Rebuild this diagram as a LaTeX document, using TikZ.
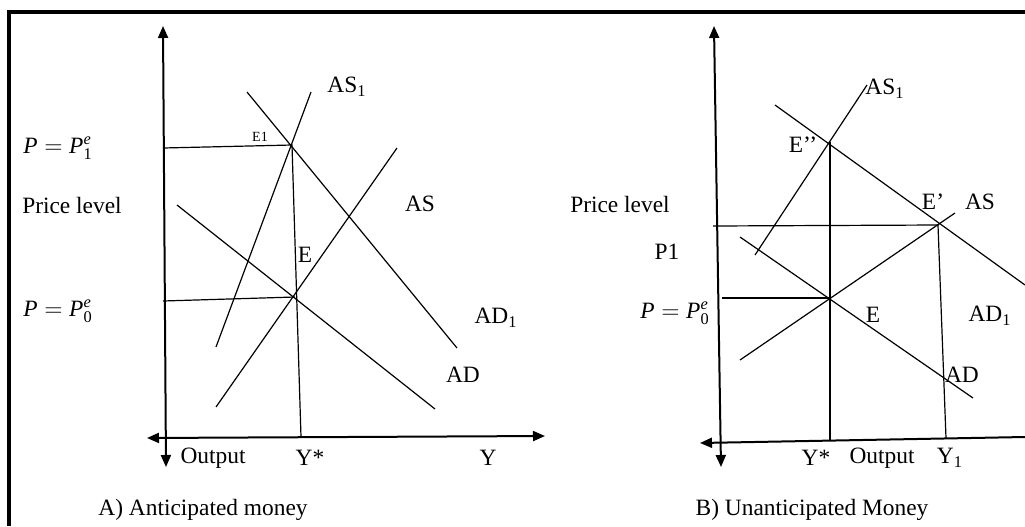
\documentclass[tikz,border=0pt]{standalone}
\usepackage{fontspec}
\setmainfont{Liberation Serif}
\usetikzlibrary{arrows.meta}

\begin{document}
\begin{tikzpicture}[
    x=0.5pt, y=-0.5pt,
    font=\fontsize{11.7}{14}\selectfont,
    axis/.style={
        line width=1pt,
        {Triangle[length=6pt,width=5pt]}-{Triangle[length=6pt,width=5pt]}
    },
    leftaxis/.style={
        line width=1pt,
        {Triangle[length=6pt,width=5pt]}-
    },
    curve/.style={line width=0.6pt},
    guide/.style={line width=0.6pt},
    lbl/.style={inner sep=1pt},
    small/.style={inner sep=1pt, font=\fontsize{7}{8}\selectfont},
    frame/.style={line width=2pt}
]
\useasboundingbox (0,0) rectangle (1025,526);

% Frame
\coordinate (fTop) at (1025,12);
\coordinate (fCorner) at (9,12);
\coordinate (fBottom) at (9,526);
\draw[frame] (fTop) -- (fCorner) -- (fBottom);

%%% Panel A: anticipated money
% Axes
\coordinate (aYtop) at (163,26);
\coordinate (aYbot) at (166,467);
\coordinate (aXleft) at (147,438);
\coordinate (aXright) at (545,436);
\draw[axis] (aYbot) -- (aYtop);
\draw[axis] (aXleft) -- (aXright);

% Points
\coordinate (aE1) at (292,145);
\coordinate (aE) at (295,297);
\coordinate (aYstar) at (301,437);
\coordinate (aP1) at (163,148);
\coordinate (aP0) at (163,301);

% Curves
\coordinate (aAD1a) at (247,92);
\coordinate (aAD1b) at (457,348);
\coordinate (aAS1a) at (311,92);
\coordinate (aAS1b) at (216,347);
\coordinate (aASa) at (397,148);
\coordinate (aASb) at (216,407);
\coordinate (aADa) at (177,205);
\coordinate (aADb) at (435,409);
\draw[curve] (aAD1a) -- (aAD1b);
\draw[curve] (aAS1a) -- (aAS1b);
\draw[curve] (aASa) -- (aASb);
\draw[curve] (aADa) -- (aADb);

% Guides
\draw[guide] (aP1) -- (aE1) -- (aYstar);
\draw[guide] (aP0) -- (aE);

% Labels
\node[lbl] (aLabP1) at (58,148) {$\mathit{P} = \mathit{P}^{\mathit{e}}_{\mathrm{1}}$};
\node[lbl] (aLabPrice) at (72,205) {Price level};
\node[lbl] (aLabP0) at (58,311) {$\mathit{P} = \mathit{P}^{\mathit{e}}_{\mathrm{0}}$};
\node[lbl] (aLabAS1) at (347,87) {AS\textsubscript{1}};
\node[small] (aLabE1) at (260,137) {E1};
\node[lbl] (aLabAS) at (420,204) {AS};
\node[lbl] (aLabE) at (305,255) {E};
\node[lbl] (aLabAD1) at (496,318) {AD\textsubscript{1}};
\node[lbl] (aLabAD) at (463,375) {AD};
\node[lbl] (aLabOut) at (213,458) {Output};
\node[lbl] (aLabYstar) at (310,458) {Y*};
\node[lbl] (aLabY) at (488,458) {Y};
\node[lbl] (aCaption) at (203,510) {A) Anticipated money};

%%% Panel B: unanticipated money
% Axes
\coordinate (bYtop) at (714,26);
\coordinate (bYbot) at (721,467);
\coordinate (bXleft) at (700,443);
\coordinate (bXright) at (1025,437);
\draw[axis] (bYbot) -- (bYtop);
\draw[leftaxis] (bXleft) -- (bXright);

% Points
\coordinate (bE2) at (830,142);
\coordinate (bEp) at (938,225);
\coordinate (bE) at (830,298);
\coordinate (bYstar) at (830,440);
\coordinate (bY1) at (946,438);
\coordinate (bP1) at (713,226);
\coordinate (bP0) at (722,298);

% Curves
\coordinate (bAS1a) at (867,85);
\coordinate (bAS1b) at (755,255);
\coordinate (bAD1a) at (775,105);
\coordinate (bAD1b) at (1025,285);
\coordinate (bASa) at (740,360);
\coordinate (bASb) at (955,213);
\coordinate (bADa) at (740,237);
\coordinate (bADb) at (973,398);
\draw[curve] (bAS1a) -- (bAS1b);
\draw[curve] (bAD1a) -- (bAD1b);
\draw[curve] (bASa) -- (bASb);
\draw[curve] (bADa) -- (bADb);

% Guides
\draw[guide] (bP1) -- (bEp) -- (bY1);
\draw[guide] (bE2) -- (bYstar);
\draw[guide] (bP0) -- (bE);

% Labels
\node[lbl] (bLabAS1) at (885,89) {AS\textsubscript{1}};
\node[lbl] (bLabE2) at (803,145) {E’’};
\node[lbl] (bLabPrice) at (620,204) {Price level};
\node[lbl] (bLabEp) at (933,202) {E’};
\node[lbl] (bLabAS) at (980,202) {AS};
\node[lbl] (bLabP1) at (667,252) {P1};
\node[lbl] (bLabP0) at (675,313) {$\mathit{P} = \mathit{P}^{\mathit{e}}_{\mathrm{0}}$};
\node[lbl] (bLabE) at (873,315) {E};
\node[lbl] (bLabAD1) at (990,316) {AD\textsubscript{1}};
\node[lbl] (bLabAD) at (962,375) {AD};
\node[lbl] (bLabYstar) at (816,458) {Y*};
\node[lbl] (bLabOut) at (882,458) {Output};
\node[lbl] (bLabY1) at (950,458) {Y\textsubscript{1}};
\node[lbl] (bCaption) at (812,510) {B) Unanticipated Money};

\end{tikzpicture}
\end{document}
